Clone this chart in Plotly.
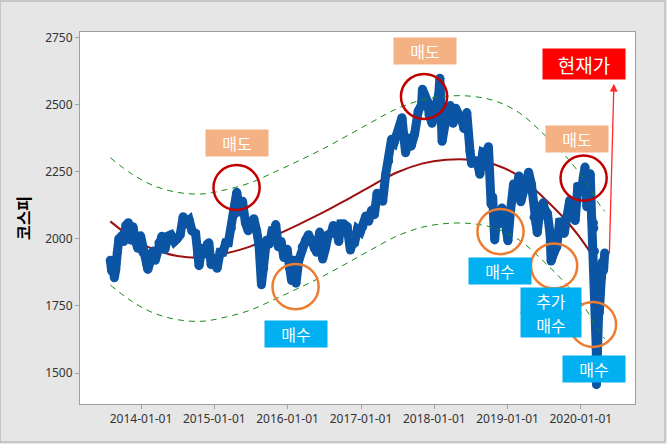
import plotly.graph_objects as go
import pandas as pd

# ---------------- data ----------------
kospi_dates = [
    "2013-08-01","2013-08-08","2013-08-14","2013-08-21","2013-08-28","2013-09-05","2013-09-13","2013-09-26",
    "2013-10-07","2013-10-18","2013-10-30","2013-11-12","2013-11-22","2013-12-05","2013-12-16","2013-12-30",
    "2014-01-10","2014-01-28","2014-02-04","2014-02-18","2014-03-03","2014-03-13","2014-03-31","2014-04-15",
    "2014-04-30","2014-05-15","2014-05-30","2014-06-16","2014-06-30","2014-07-15","2014-07-30","2014-08-13",
    "2014-08-29","2014-09-12","2014-09-30","2014-10-10","2014-10-17","2014-10-31","2014-11-14","2014-11-28",
    "2014-12-05","2014-12-16","2014-12-30",
    "2015-01-15","2015-01-30","2015-02-13","2015-02-27","2015-03-12","2015-03-27","2015-04-10","2015-04-23",
    "2015-05-08","2015-05-22","2015-06-05","2015-06-19","2015-07-03","2015-07-17","2015-07-31","2015-08-12",
    "2015-08-24","2015-09-04","2015-09-18","2015-10-02","2015-10-16","2015-10-30","2015-11-03","2015-11-16",
    "2015-11-30","2015-12-14","2015-12-30",
    "2016-01-12","2016-01-21","2016-02-02","2016-02-12","2016-02-26","2016-03-14","2016-03-31","2016-04-15",
    "2016-04-29","2016-05-13","2016-05-25","2016-06-09","2016-06-24","2016-07-08","2016-07-22","2016-08-05",
    "2016-08-16","2016-08-31","2016-09-12","2016-09-22","2016-10-07","2016-10-24","2016-11-09","2016-11-15",
    "2016-11-30","2016-12-14","2016-12-29",
    "2017-01-10","2017-01-25","2017-02-08","2017-02-22","2017-03-09","2017-03-22","2017-04-05","2017-04-19",
    "2017-05-04","2017-05-19","2017-06-02","2017-06-16","2017-06-30","2017-07-13","2017-07-24","2017-08-11",
    "2017-08-25","2017-09-08","2017-09-25","2017-10-13","2017-10-30","2017-11-03","2017-11-16","2017-11-29",
    "2017-12-07","2017-12-21","2017-12-28",
    "2018-01-10","2018-01-23","2018-01-29","2018-02-09","2018-02-22","2018-03-09","2018-03-22","2018-04-05",
    "2018-04-18","2018-05-04","2018-05-16","2018-05-29","2018-06-12","2018-06-28","2018-07-06","2018-07-20",
    "2018-08-03","2018-08-16","2018-08-31","2018-09-14","2018-09-28","2018-10-11","2018-10-19","2018-10-29",
    "2018-11-09","2018-11-23","2018-12-04","2018-12-19","2018-12-27",
    "2019-01-03","2019-01-15","2019-01-31","2019-02-14","2019-02-27","2019-03-08","2019-03-20","2019-04-03",
    "2019-04-16","2019-04-30","2019-05-13","2019-05-22","2019-05-29","2019-06-12","2019-06-27","2019-07-05",
    "2019-07-19","2019-08-01","2019-08-06","2019-08-20","2019-09-03","2019-09-17","2019-09-30","2019-10-10",
    "2019-10-24","2019-11-07","2019-11-20","2019-12-04","2019-12-17","2019-12-30",
    "2020-01-03","2020-01-13","2020-01-22","2020-01-31","2020-02-07","2020-02-17","2020-02-24","2020-02-28",
    "2020-03-04","2020-03-06","2020-03-09","2020-03-12","2020-03-13","2020-03-16","2020-03-17","2020-03-18",
    "2020-03-19","2020-03-20","2020-03-23","2020-03-24","2020-03-25","2020-03-26","2020-03-27","2020-03-31",
    "2020-04-02","2020-04-06","2020-04-08","2020-04-10","2020-04-14","2020-04-17","2020-04-21","2020-04-24",
    "2020-04-29",
]
kospi_values = [
    1920,1880,1920,1855,1885,1950,2000,2010,
    1990,2050,2060,1995,2045,1990,1965,2011,
    1950,1910,1886,1945,1955,1920,1985,2010,
    1960,2010,2015,1990,2000,2015,2082,2060,
    2070,2030,2020,1940,1900,1965,1945,1980,
    1985,1904,1915,
    1890,1950,1950,1985,1985,2040,2090,2173,
    2100,2140,2060,2030,2060,2075,2030,1975,
    1829,1890,1995,1980,2030,2030,2053,1970,
    1990,1930,1961,
    1890,1845,1920,1835,1920,1970,1995,2015,
    1995,1965,1950,2025,1925,1965,2015,2020,
    2050,2035,1990,2055,2055,2045,1958,1975,
    1985,2035,2026,
    2045,2085,2065,2106,2090,2170,2160,2140,
    2240,2290,2371,2360,2390,2415,2451,2320,
    2375,2345,2390,2475,2500,2557,2530,2510,
    2460,2430,2467,
    2500,2537,2598,2363,2420,2460,2496,2430,
    2486,2460,2450,2410,2470,2326,2280,2290,
    2290,2240,2322,2318,2343,2129,2156,1996,
    2087,2057,2115,2070,2028,
    1993,2097,2204,2190,2234,2138,2177,2203,
    2248,2203,2080,2060,2023,2110,2134,2110,
    2094,2017,1917,1948,1970,2062,2063,2020,
    2085,2144,2125,2068,2195,2198,
    2176,2229,2267,2119,2212,2242,2079,1987,
    2059,2040,1954,1834,1771,1714,1672,1591,
    1457,1566,1482,1609,1704,1686,1717,1754,
    1724,1791,1807,1860,1857,1914,1879,1889,
    1947,
]

trend_dates = ["2013-08-01","2013-11-15","2014-03-01","2014-07-01","2014-11-01","2015-03-01","2015-07-01",
               "2015-11-01","2016-03-01","2016-07-01","2016-11-01","2017-03-01","2017-07-01","2017-11-01",
               "2018-03-01","2018-07-01","2018-11-01","2019-03-01","2019-07-01","2019-11-01","2020-02-01",
               "2020-03-20","2020-04-29"]
trend_values = [2065,2005,1962,1936,1930,1946,1972,2013,2055,2100,2150,2200,2248,2280,
                2294,2294,2276,2232,2152,2058,1968,1906,1865]
upper_values = [2302,2242,2199,2173,2167,2183,2209,2250,2292,2337,2387,2437,2485,2517,
                2531,2531,2513,2469,2389,2295,2205,2143,2102]
lower_values = [1828,1768,1725,1699,1693,1709,1735,1776,1818,1863,1913,1963,2011,2043,
                2057,2057,2039,1995,1915,1821,1731,1669,1628]

y_ticks = [1500, 1750, 2000, 2250, 2500, 2750]
x_ticks = ["2014-01-01","2015-01-01","2016-01-01","2017-01-01","2018-01-01","2019-01-01","2020-01-01"]
y_title = "코스피"

# signal circles: (center date, center value, kind)
signals = [
    ("2015-04-22", 2191, "sell"),
    ("2017-11-11", 2530, "sell"),
    ("2020-01-15", 2226, "sell"),
    ("2016-02-10", 1822, "buy"),
    ("2018-11-27", 2027, "buy"),
    ("2019-08-21", 1899, "buy"),
    ("2020-03-02", 1681, "buy"),
]
# labels: (date, value, lines of text, kind)
labels = [
    ("2015-04-24", 2357, ["매도"], "sell"),
    ("2017-11-14", 2700, ["매도"], "sell"),
    ("2019-12-13", 2372, ["매도"], "sell"),
    ("2016-02-14", 1645, ["매수"], "buy"),
    ("2018-11-22", 1880, ["매수"], "buy"),
    ("2019-08-03", 1725, ["추가", "매수"], "buy"),
    ("2020-03-07", 1515, ["매수"], "buy"),
]
current_label = ("2020-01-17", 2651, "현재가")

# ---------------- figure ----------------
FONT = "Noto Sans CJK KR"
fig = go.Figure()

fig.add_trace(go.Scatter(x=trend_dates, y=trend_values, mode="lines",
                         line=dict(color="#9b1010", width=2, shape="spline"), hoverinfo="skip"))
fig.add_trace(go.Scatter(x=kospi_dates, y=kospi_values, mode="lines+markers",
                         line=dict(color="#0b55a4", width=9),
                         marker=dict(color="#0b55a4", size=9)))
for band in (upper_values, lower_values):
    fig.add_trace(go.Scatter(x=trend_dates, y=band, mode="lines",
                             line=dict(color="#158a15", width=1, dash="6px,5px", shape="spline"),
                             hoverinfo="skip"))

R_DAYS = 115
R_VAL = 84
for d, v, kind in signals:
    c = pd.Timestamp(d)
    fig.add_shape(type="circle", xref="x", yref="y",
                  x0=c - pd.Timedelta(days=R_DAYS), x1=c + pd.Timedelta(days=R_DAYS),
                  y0=v - R_VAL, y1=v + R_VAL,
                  line=dict(color="#c00000" if kind == "sell" else "#ed7d31", width=2.5))

for d, v, lines, kind in labels:
    bg = "#f4b183" if kind == "sell" else "#00b0f0"
    n = len(lines)
    for i, t in enumerate(lines):
        shift = ((n - 1) / 2 - i) * 24
        fig.add_annotation(x=d, y=v, text=t, showarrow=False, yshift=shift,
                           font=dict(family=FONT, size=16, color="white"),
                           bgcolor=bg, width=58, height=22 if n == 1 else 23, borderpad=2 if n == 1 else 1)

fig.add_annotation(x=current_label[0], y=current_label[1], text=current_label[2], showarrow=False,
                   font=dict(family=FONT, size=19, color="white"),
                   bgcolor="#ff0000", width=78, height=26, borderpad=2)

# arrow from current value up to the label
fig.add_annotation(x="2020-06-14", y=2577, ax="2020-05-22", ay=kospi_values[-1] - 8,
                   xref="x", yref="y", axref="x", ayref="y", text="", showarrow=True,
                   arrowhead=2, arrowsize=1.2, arrowwidth=1.3, arrowcolor="#ff2a2a")

# outer frame
fig.add_shape(type="rect", xref="paper", yref="paper",
              x0=-80/555, x1=1+30/555, y0=-38/372, y1=1+31/372,
              line=dict(color="#a8a8a8", width=1), layer="below")

fig.update_layout(
    width=667, height=444,
    margin=dict(l=80, r=32, t=32, b=40),
    paper_bgcolor="#e6e6e6", plot_bgcolor="white",
    showlegend=False,
    font=dict(family="Noto Sans", size=12, color="#333333"),
)
fig.update_xaxes(type="date", range=["2013-03-03", "2020-09-27"],
                 tickvals=x_ticks, ticktext=x_ticks,
                 ticks="outside", ticklen=4, tickcolor="#a0a0a0",
                 showgrid=False, zeroline=False,
                 showline=True, linecolor="#a0a0a0", linewidth=1, mirror=True,
                 tickfont=dict(family="Noto Sans", size=12, color="#333333"))
fig.update_yaxes(range=[1385, 2770], tickvals=y_ticks,
                 ticks="outside", ticklen=4, tickcolor="#a0a0a0",
                 showgrid=False, zeroline=False,
                 showline=True, linecolor="#a0a0a0", linewidth=1, mirror=True,
                 tickfont=dict(family="Noto Sans", size=12, color="#333333"),
                 title=dict(text="<b>" + y_title + "</b>", standoff=10,
                            font=dict(family=FONT, size=16, color="black")))

fig.write_html("out.html")
